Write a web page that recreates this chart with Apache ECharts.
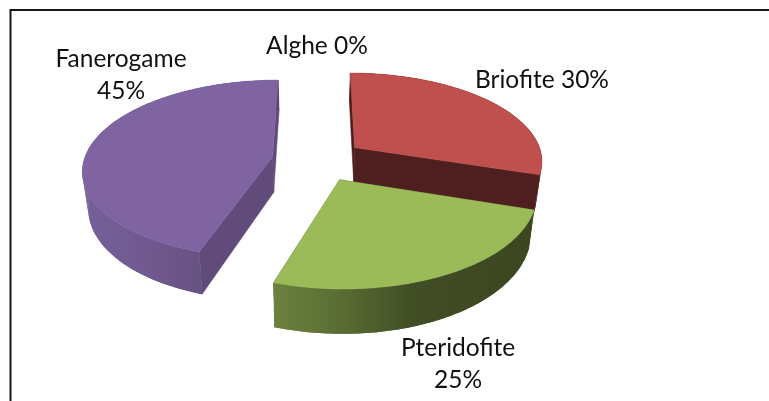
<!DOCTYPE html>
<html><head><meta charset="utf-8">
<style>html,body{margin:0;padding:0;background:#fff}#c{width:769px;height:401px}</style>
<script src="https://cdn.jsdelivr.net/npm/echarts@6/dist/echarts.min.js"></script>
</head><body><div id="c"></div>
<script>
var categories = ['Alghe', 'Briofite', 'Pteridofite', 'Fanerogame'];
var values = [0, 30, 25, 45];
var labelBreaks = [' ', ' ', '\n', '\n'];

// view of the tilted pie
var view = {cx: 318, cy: 160, rx: 188.5, ry: 88, persp: 0.1383, explode: 0.245, sx: 0.975, depth: 35, depthGrow: 0.07};
var topColors = ['#4F81BD', '#C0504D', '#9BBB59', '#8064A2'];
var cutColors = ['#2a4563', '#4E1F1E', '#55682F', '#614B7A'];
var rimStops = [
  [[0, '#2a4563'], [1, '#2a4563']],
  [[0, '#4E1F1E'], [1, '#4E1F1E']],
  [[0, '#6C813E'], [0.25, '#5A6E33'], [0.55, '#414D24'], [1, '#3C4721']],
  [[0, '#77609A'], [0.6, '#685283'], [1, '#57446F']]
];
var labelAt = [[317, 46], [542, 80], [458, 364], [121, 75]];

var total = values.reduce(function (a, b) { return a + b; }, 0);
var TAU = Math.PI * 2;

function project(px, pf) {
  var w = 1 - view.persp * pf;
  return [view.cx + view.rx * px / w, view.cy + view.ry * pf / w];
}
function lower(p) {
  return [view.cx + (p[0] - view.cx) * view.sx, p[1] + view.depth + view.depthGrow * (p[1] - 148)];
}
function poly(points, fill, stroke) {
  var style = {fill: fill};
  if (stroke) { style.stroke = stroke; style.lineWidth = 0.5; }
  return {type: 'polygon', shape: {points: points}, style: style};
}

function renderItem(params, api) {
  var i = params.dataIndex;
  var before = 0;
  for (var j = 0; j < i; j++) before += values[j];
  var v = api.value(0);
  var a0 = before / total * TAU, a1 = (before + v) / total * TAU, mid = (a0 + a1) / 2;
  var children = [];
  var lp = labelAt[i];
  if (v > 0) {
    var ox = view.explode * Math.sin(mid), of = -view.explode * Math.cos(mid);
    var rim = [], n = 90;
    for (var k = 0; k <= n; k++) {
      var a = a0 + (a1 - a0) * k / n;
      rim.push(project(ox + Math.sin(a), of - Math.cos(a)));
    }
    var apex = project(ox, of);
    var rimLow = rim.map(lower), apexLow = lower(apex);
    var xs = rimLow.map(function (p) { return p[0]; });
    var grad = new echarts.graphic.LinearGradient(Math.min.apply(null, xs), 0, Math.max.apply(null, xs), 0,
      rimStops[i].map(function (s) { return {offset: s[0], color: s[1]}; }), true);
    children.push(poly([apex, rim[0], rimLow[0], apexLow], cutColors[i], cutColors[i]));
    children.push(poly([apex, rim[n], rimLow[n], apexLow], cutColors[i], cutColors[i]));
    for (var q = 0; q < n; q++) {
      children.push(poly([rim[q], rim[q + 1], rimLow[q + 1], rimLow[q]], grad));
    }
    children.push(poly(rim.concat(rimLow.slice().reverse()), grad));
    children.push(poly([apex].concat(rim), topColors[i], topColors[i]));
  }
  children.push({
    type: 'text', z2: 10,
    style: {
      x: lp[0], y: lp[1], text: categories[i] + labelBreaks[i] + v + '%',
      font: '24.5px Lato, "Open Sans", sans-serif', fill: '#111', align: 'center', verticalAlign: 'middle',
      lineHeight: 32
    }
  });
  return {type: 'group', children: children};
}

var chart = echarts.init(document.getElementById('c'), null, {renderer: 'canvas'});
chart.setOption({
  animation: false,
  backgroundColor: '#fff',
  graphic: [{
    type: 'polyline', silent: true,
    shape: {points: [[10.5, 401], [10.5, 10], [769, 10]]},
    style: {stroke: '#161616', lineWidth: 2, fill: null}
  }],
  series: [{
    type: 'custom', coordinateSystem: 'none', renderItem: renderItem,
    data: values.map(function (v, i) { return {name: categories[i], value: [v]}; })
  }]
});
</script></body></html>
